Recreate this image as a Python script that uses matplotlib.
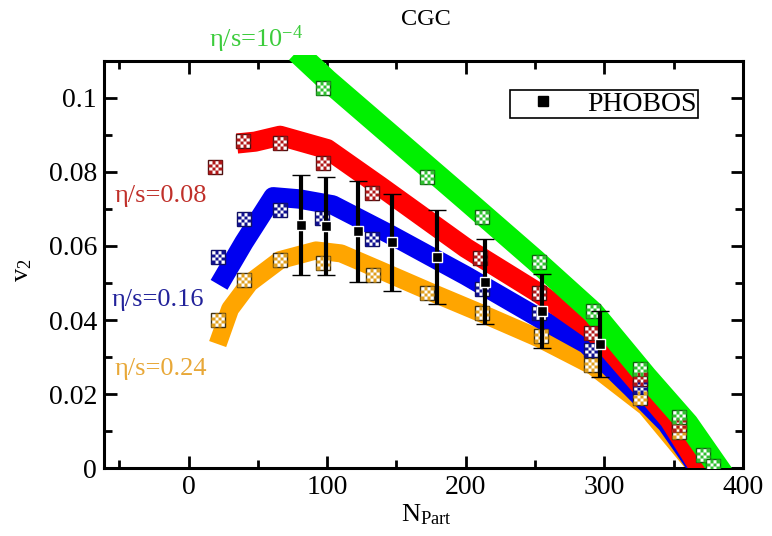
import numpy as np
import matplotlib
matplotlib.use("Agg")
import matplotlib.pyplot as plt
from matplotlib.path import Path
from matplotlib.lines import Line2D
from matplotlib.patches import Rectangle
from matplotlib.ticker import FuncFormatter, MultipleLocator

# ---------------- data ----------------
# theory bands (centre lines), eta/s = 1e-4, 0.08, 0.16, 0.24
green_N = [78, 100, 152, 200, 250, 292, 330, 360, 386]
green_v = [0.1125, 0.1048, 0.088, 0.0725, 0.0562, 0.042, 0.0248, 0.012, -0.002]

red_N = [35, 48, 66, 100, 138, 200, 253, 292, 322, 347, 372]
red_v = [0.0877, 0.0882, 0.0898, 0.0862, 0.0762, 0.0595, 0.0472, 0.037, 0.024, 0.013, -0.002]

blue_N = [22, 40, 61, 80, 104, 145, 200, 253, 287, 320, 345, 371]
blue_v = [0.0495, 0.061, 0.0733, 0.0727, 0.0711, 0.0632, 0.052, 0.0405, 0.0335, 0.0215, 0.012, -0.002]

orange_N = [21, 30, 44, 66, 92, 110, 138, 175, 210, 253, 292, 330, 371]
orange_v = [0.0335, 0.043, 0.050, 0.0562, 0.0588, 0.058, 0.0535, 0.0475, 0.042, 0.035, 0.0275, 0.0165, -0.002]

# checkered model points
ck_red_N = [19, 39, 66, 97, 132, 210, 253, 290, 326, 354]
ck_red_v = [0.0814, 0.0884, 0.0879, 0.0823, 0.0742, 0.0568, 0.0473, 0.0365, 0.024, 0.0116]
ck_blue_N = [21, 40, 66, 96, 132, 212, 253, 290, 326]
ck_blue_v = [0.057, 0.0672, 0.0697, 0.0677, 0.062, 0.0485, 0.042, 0.032, 0.0218]
ck_orange_N = [21, 40, 66, 97, 133, 172, 212, 254, 290, 326, 354]
ck_orange_v = [0.040, 0.0508, 0.0561, 0.0555, 0.0522, 0.0472, 0.042, 0.0357, 0.0278, 0.019, 0.0097]
ck_green_N = [97, 172, 212, 253, 292, 326, 354, 371, 378]
ck_green_v = [0.1027, 0.0786, 0.0679, 0.0557, 0.0424, 0.0268, 0.0138, 0.0034, 0.0005]

# PHOBOS data
phobos_N = [81, 99, 122, 147, 179, 214, 255, 297]
phobos_v = [0.0657, 0.0654, 0.0640, 0.0610, 0.0570, 0.0503, 0.0424, 0.0335]
phobos_err = [0.0135, 0.0132, 0.0136, 0.0131, 0.0127, 0.0115, 0.0101, 0.0088]

x_ticks = [0, 100, 200, 300, 400]
y_ticks = [0, 0.02, 0.04, 0.06, 0.08, 0.1]

# ---------------- style ----------------
plt.rcParams['font.family'] = ['Liberation Serif', 'DejaVu Serif']
plt.rcParams['mathtext.fontset'] = 'custom'
plt.rcParams['mathtext.rm'] = 'Liberation Serif'
plt.rcParams['mathtext.it'] = 'Liberation Serif:italic'
plt.rcParams['mathtext.bf'] = 'Liberation Serif:bold'

GREEN = '#00f000'
RED = '#ff0000'
BLUE = '#0000f0'
ORANGE = '#ffa500'

fig = plt.figure(figsize=(7.72, 5.36), dpi=100)
ax = fig.add_axes([104/772, 68/536, 639/772, 407/536])
ax.set_xlim(-61, 400)
ax.set_ylim(0, 0.11)

# bands
clip_rect = Rectangle((0, 0), 1, 1.015, transform=ax.transAxes, visible=False)
ax.add_patch(clip_rect)
for N, v, c, lw, z in [(orange_N, orange_v, ORANGE, 13, 2),
                       (blue_N, blue_v, BLUE, 14, 3),
                       (red_N, red_v, RED, 14.5, 4),
                       (green_N, green_v, GREEN, 16, 5)]:
    ln, = ax.plot(N, v, color=c, lw=lw, solid_capstyle='butt',
                  solid_joinstyle='round', zorder=z)
    ln.set_clip_path(clip_rect)


# checker marker
def checker_path(n=4):
    verts, codes = [], []
    s = 1.0 / n
    for i in range(n):
        for j in range(n):
            if (i + j) % 2 == 0:
                x0 = -0.5 + i * s
                y0 = -0.5 + j * s
                verts += [(x0, y0), (x0 + s, y0), (x0 + s, y0 + s), (x0, y0 + s), (x0, y0)]
                codes += [Path.MOVETO, Path.LINETO, Path.LINETO, Path.LINETO, Path.CLOSEPOLY]
    return Path(verts, codes)


CHK = checker_path(4)
MS = 10
for N, v, fc, ec in [(ck_orange_N, ck_orange_v, '#e0a020', '#403010'),
                     (ck_blue_N, ck_blue_v, '#101090', '#101060'),
                     (ck_red_N, ck_red_v, '#b01818', '#501010'),
                     (ck_green_N, ck_green_v, '#30c030', '#106010')]:
    ax.plot(N, v, ls='none', marker='s', ms=MS, mfc='white', mec=ec, mew=1.0, zorder=7)
    ax.plot(N, v, ls='none', marker=CHK, ms=MS, mfc=fc, mec='none', zorder=8)

# PHOBOS
ax.errorbar(phobos_N, phobos_v, yerr=phobos_err, fmt='s', color='black',
            ms=7.5, mfc='black', mec='white', mew=1.0, elinewidth=3,
            capsize=6.5, capthick=3, zorder=10)

# labels on curves
LFS = 19
ax.text(-53.4, 0.0719, 'η/s=0.08', color='#c0302a', fontsize=LFS, ha='left', va='baseline')
ax.text(-55.6, 0.0438, 'η/s=0.16', color='#22229a', fontsize=LFS, ha='left', va='baseline')
ax.text(-53.4, 0.0251, 'η/s=0.24', color='#e8a838', fontsize=LFS, ha='left', va='baseline')
ax.text(15, 0.1137, r'η/s=10$^{\mathregular{-4}}$', color='#3ccc3c', fontsize=LFS,
        ha='left', va='baseline', clip_on=False)
fig.text(426/772, 1 - 25/536, 'CGC', fontsize=17.5, ha='center', va='baseline')

# axes styling
for sp in ax.spines.values():
    sp.set_linewidth(2.2)
ax.set_xticks(x_ticks)
ax.xaxis.set_minor_locator(MultipleLocator(50))
ax.set_yticks(y_ticks)
ax.yaxis.set_minor_locator(MultipleLocator(0.01))
ax.yaxis.set_major_formatter(FuncFormatter(lambda v, p: '%g' % v))
ax.tick_params(which='both', direction='in', top=True, right=True, width=2)
ax.tick_params(which='major', length=9, labelsize=20, pad=5)
ax.tick_params(which='minor', length=5.5)

ax.set_xlabel(r'N$_{\mathregular{Part}}$', fontsize=19)
ax.xaxis.set_label_coords(0.505, -0.085)
ax.set_ylabel(r'v$_{\mathregular{2}}$', fontsize=19)
ax.yaxis.set_label_coords(-0.11, 0.486)

# legend
h = Line2D([], [], ls='none', marker='s', ms=7.5, mfc='black', mec='black')
leg = ax.legend([h], ['PHOBOS'], loc='upper left', bbox_to_anchor=(0.6354, 0.9287),
                borderaxespad=0, fontsize=20, frameon=True, fancybox=False,
                framealpha=1, edgecolor='black', borderpad=0.05,
                handlelength=2.27, handletextpad=0.45)
leg.get_frame().set_linewidth(1.2)
leg.set_zorder(20)

fig.savefig('out.png', dpi=100)
